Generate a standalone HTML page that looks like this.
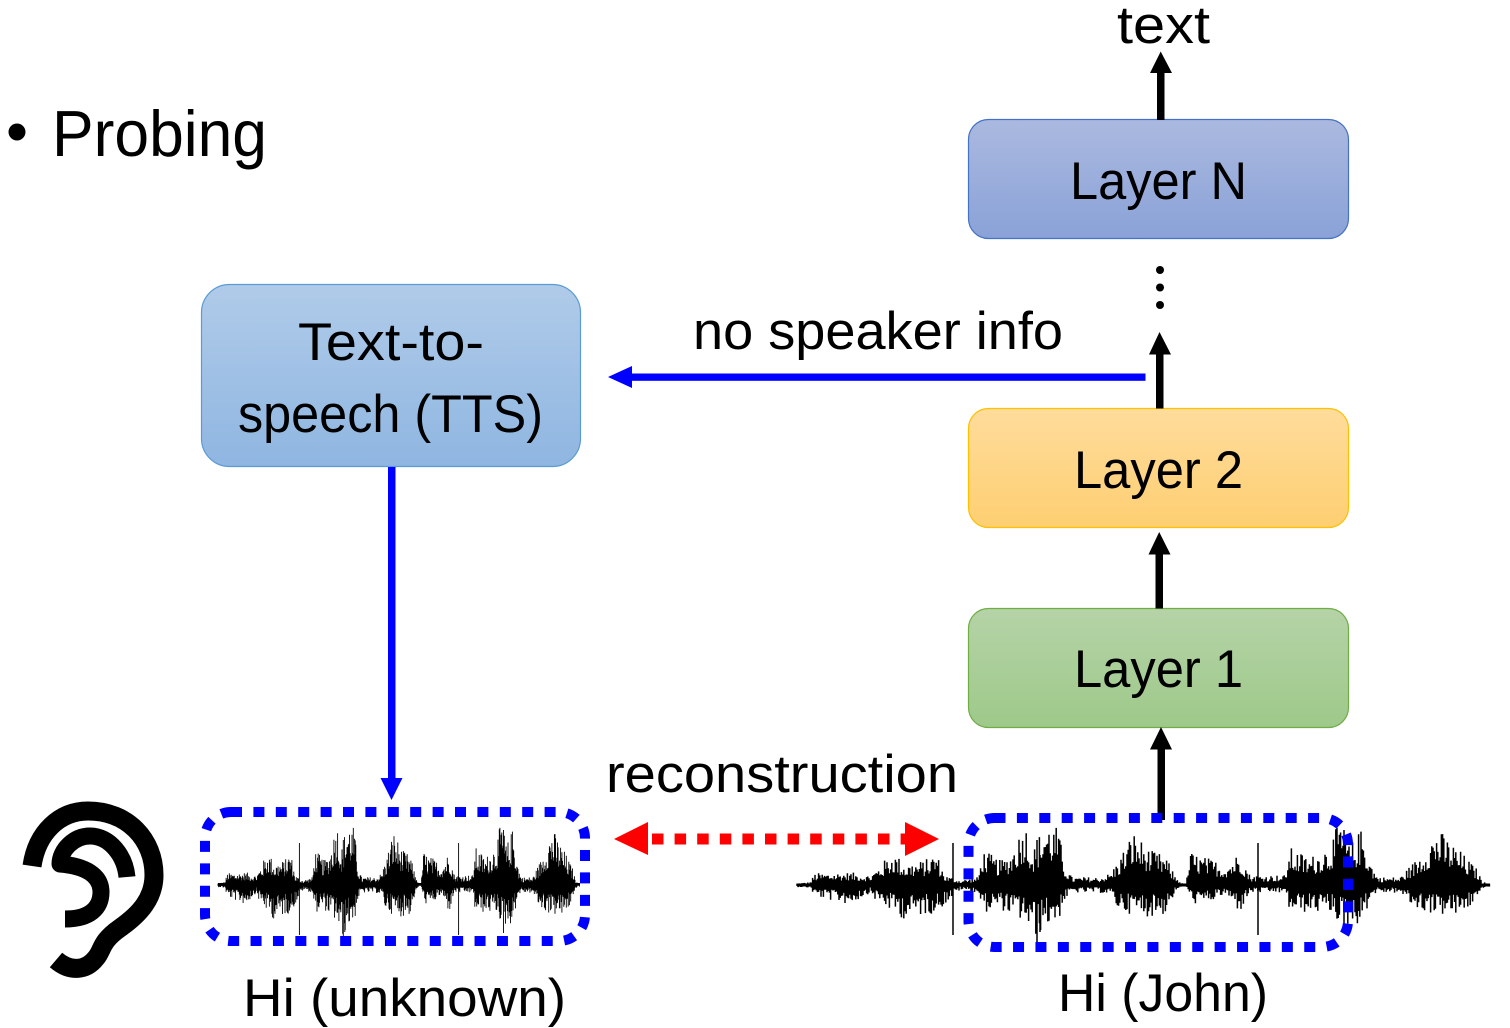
<!DOCTYPE html>
<html><head><meta charset="utf-8"><style>
html,body{margin:0;padding:0;background:#fff;width:1510px;height:1028px;overflow:hidden}
svg{display:block}
text{font-family:"Liberation Sans",sans-serif;fill:#000;font-size:53px}
</style></head><body>
<svg xmlns="http://www.w3.org/2000/svg" width="1510" height="1028" viewBox="0 0 1510 1028">
<defs>
<linearGradient id="gN" x1="0" y1="0" x2="0" y2="1"><stop offset="0" stop-color="#abb9df"/><stop offset="1" stop-color="#8aa2d8"/></linearGradient>
<linearGradient id="g2" x1="0" y1="0" x2="0" y2="1"><stop offset="0" stop-color="#ffdc9c"/><stop offset="1" stop-color="#fecf72"/></linearGradient>
<linearGradient id="g1" x1="0" y1="0" x2="0" y2="1"><stop offset="0" stop-color="#b5d3a7"/><stop offset="1" stop-color="#9ec98a"/></linearGradient>
<linearGradient id="gT" x1="0" y1="0" x2="0" y2="1"><stop offset="0" stop-color="#b0cbe9"/><stop offset="1" stop-color="#8fb6e1"/></linearGradient>
</defs>

<circle cx="17" cy="132" r="8.500" fill="#000"/>
<text x="52" y="156" style="font-size:65px" textLength="215" lengthAdjust="spacingAndGlyphs">Probing</text>
<text x="1117" y="43" textLength="93" lengthAdjust="spacingAndGlyphs">text</text>

<rect x="968.5" y="119.5" width="380" height="119" rx="20" fill="url(#gN)" stroke="#4472c4" stroke-width="1.2"/>
<rect x="968.5" y="408.5" width="380" height="119" rx="20" fill="url(#g2)" stroke="#ffc000" stroke-width="1.2"/>
<rect x="968.5" y="608.5" width="380" height="119" rx="20" fill="url(#g1)" stroke="#70ad47" stroke-width="1.2"/>
<rect x="201.5" y="284.5" width="379" height="182" rx="28" fill="url(#gT)" stroke="#5b9bd5" stroke-width="1.2"/>

<text x="1070" y="199" textLength="177" lengthAdjust="spacingAndGlyphs">Layer N</text>
<text x="1074" y="488" textLength="169" lengthAdjust="spacingAndGlyphs">Layer 2</text>
<text x="1074" y="687" textLength="169" lengthAdjust="spacingAndGlyphs">Layer 1</text>
<text x="298" y="360" textLength="186" lengthAdjust="spacingAndGlyphs">Text-to-</text>
<text x="238" y="432" textLength="305" lengthAdjust="spacingAndGlyphs">speech (TTS)</text>
<text x="693" y="349" textLength="370" lengthAdjust="spacingAndGlyphs">no speaker info</text>
<text x="606" y="792" textLength="352" lengthAdjust="spacingAndGlyphs">reconstruction</text>
<text x="243" y="1016" textLength="323" lengthAdjust="spacingAndGlyphs">Hi (unknown)</text>
<text x="1058" y="1011" textLength="210" lengthAdjust="spacingAndGlyphs">Hi (John)</text>

<!-- black arrows -->
<g fill="#000">
<rect x="1157" y="71" width="7.5" height="49"/><polygon points="1160.7,51.5 1172,73 1150,73"/>
<rect x="1156" y="352" width="7.5" height="56.5"/><polygon points="1159.5,332 1171,354.500 1149,354.500"/>
<rect x="1155.500" y="552" width="7.5" height="56.5"/><polygon points="1159.200,532 1170.500,554.500 1148.500,554.500"/>
<rect x="1157.500" y="747" width="7.500" height="73"/><polygon points="1161,727 1172,749.500 1150,749.500"/>
<circle cx="1160" cy="270" r="4"/><circle cx="1160" cy="287.500" r="4"/><circle cx="1160" cy="305" r="4"/>
</g>

<!-- blue arrows -->
<rect x="630" y="373.500" width="515.500" height="7.300" fill="#0000ff"/>
<polygon points="608,377 632,366 632,388" fill="#0000ff"/>
<rect x="388" y="467" width="7.500" height="313" fill="#0000ff"/>
<polygon points="391.500,800 380.500,778 402.500,778" fill="#0000ff"/>

<!-- waveforms -->
<path id="w1" fill="none" stroke="#000" stroke-width="0.9"/>
<path id="w2" fill="none" stroke="#000" stroke-width="1.5"/>
<rect x="218" y="883" width="362" height="2.500" fill="#000"/>
<rect x="797" y="883.500" width="693" height="3" fill="#000"/>

<!-- dotted boxes -->
<rect x="205" y="812" width="380" height="129" rx="26" fill="none" stroke="#0000ff" stroke-width="10" stroke-dasharray="11 11.400"/>
<rect x="968.500" y="818" width="379.500" height="129" rx="26" fill="none" stroke="#0000ff" stroke-width="10" stroke-dasharray="11 11.400"/>

<!-- red arrow -->
<line x1="652" y1="839" x2="906" y2="839" stroke="#ff0000" stroke-width="11" stroke-dasharray="11.500 11.100"/>
<polygon points="614,839 648,822 648,855" fill="#ff0000"/>
<polygon points="939,839 905,822 905,856" fill="#ff0000"/>

<!-- ear -->
<g fill="none" stroke="#000" stroke-linecap="butt" stroke-linejoin="round">
<path d="M32 866 C37 832 60 811 88 811 C128 811 154 840 154 875 C154 898 140 914 120 928 C100 942 103 950 96 958 C86 971 70 972 56 960" stroke-width="19"/>
<path d="M127 877 C125 856 110 836 90 836 C74 836 60 850 60 864 C85 866 101 875 101 892 C101 908 90 919 65 919" stroke-width="17"/>
</g>
</svg>
<script>
(function(){
var K=[[797,2,2],[810,3,3],[815,12,12],[850,13,20],[870,10,8],[875,15,15],[893,34,28],[905,22,35],[925,25,30],[936,34,28],[945,10,20],[960,5,5],[978,8,8],[983,36,28],[1000,25,24],[1010,32,30],[1025,66,38],[1033,35,55],[1045,66,42],[1058,58,38],[1065,20,15],[1072,8,8],[1100,8,8],[1110,12,10],[1118,25,25],[1133,55,30],[1150,35,32],[1165,30,30],[1175,10,8],[1183,1,1],[1186,1,1],[1190,34,15],[1200,30,22],[1215,25,15],[1225,20,10],[1240,34,28],[1250,10,8],[1285,10,8],[1290,38,28],[1310,28,28],[1330,42,28],[1340,66,38],[1350,40,42],[1362,58,38],[1372,20,10],[1378,8,8],[1400,8,8],[1415,25,25],[1437,58,30],[1460,35,32],[1478,15,15],[1482,3,3],[1490,2,2]];
var S=[[953,42,50],[1258,42,50],[1037,45,58],[1344,55,48],[1040,30,47]];
var seed=12345;
function r(){seed=(seed*1103515245+12345)&0x7fffffff;return seed/0x7fffffff;}
function env(x){for(var i=0;i<K.length-1;i++){if(x>=K[i][0]&&x<=K[i+1][0]){var t=(x-K[i][0])/(K[i+1][0]-K[i][0]);return[K[i][1]+(K[i+1][1]-K[i][1])*t,K[i][2]+(K[i+1][2]-K[i][2])*t];}}return[1,1];}
var cols=[];
for(var x=797;x<1490;x+=1.2){var e=env(x);var a=0.35+0.65*Math.pow(r(),1.4),b=0.3+0.7*Math.pow(r(),1.4);cols.push([x,e[0]*a,e[1]*b]);}
S.forEach(function(s){cols.push(s);});
function build(x0,sc){var d="";cols.forEach(function(c){var X=(x0+(c[0]-797)*sc).toFixed(1);d+="M"+X+" "+(885-c[1]).toFixed(1)+"V"+(885+c[2]).toFixed(1);});return d;}
document.getElementById("w2").setAttribute("d",build(797,1));
document.getElementById("w1").setAttribute("d",build(218,0.522));
})();
</script>
</body></html>
